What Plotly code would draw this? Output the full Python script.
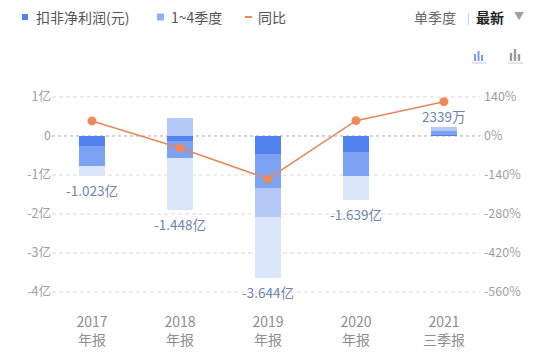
import plotly.graph_objects as go

categories = ["2017<br>年报", "2018<br>年报", "2019<br>年报", "2020<br>年报", "2021<br>三季报"]
q1 = [-0.26, -0.12, -0.47, -0.40, 0.02]
q2 = [-0.51, -0.45, -0.87, -0.62, 0.12]
q3 = [0.0, 0.46, -0.73, 0.0, 0.0939]
q4 = [-0.253, -1.338, -1.574, -0.619, 0.0]
value_labels = ["-1.023亿", "-1.448亿", "-3.644亿", "-1.639亿", "2339万"]
yoy = [54, -43, -154, 55, 123]

y_ticks = [1, 0, -1, -2, -3, -4]
y_ticktext = ["1亿", "0", "-1亿", "-2亿", "-3亿", "-4亿"]
y2_ticks = [140, 0, -140, -280, -420, -560]
y2_ticktext = ["140%", "0%", "-140%", "-280%", "-420%", "-560%"]

FONT = "Noto Sans CJK SC, Noto Sans, sans-serif"
colors = ["#5282ee", "#7ca2f4", "#b5c9f8", "#dce6fb"]

W, H = 550, 352
ML, MR, MT, MB = 52, 70, 95, 58
PW, PH = W - ML - MR, H - MT - MB


def px(x):
    return (x - ML) / PW


def py(y):
    return 1 - (y - MT) / PH


fig = go.Figure()
for i, q in enumerate([q1, q2, q3, q4]):
    fig.add_trace(go.Bar(x=categories, y=q, marker=dict(color=colors[i], line_width=0),
                         width=0.295, showlegend=False, hoverinfo="skip"))

fig.add_trace(go.Scatter(x=categories, y=yoy, yaxis="y2", mode="lines+markers",
                         line=dict(color="#e5895a", width=1.6),
                         marker=dict(color="#ee8a58", size=9),
                         showlegend=False))

# value labels
for i, c in enumerate(categories):
    vals = [q1[i], q2[i], q3[i], q4[i]]
    neg = sum(v for v in vals if v < 0)
    pos = sum(v for v in vals if v > 0)
    tot = sum(vals)
    if tot < 0:
        yv, ys = neg, -14
    else:
        yv, ys = pos, 11
    fig.add_annotation(x=c, y=yv, yshift=ys, text=value_labels[i], showarrow=False,
                       font=dict(size=13.5, color="#6f84b0", family=FONT))

# horizontal grid lines (dashed) and zero line (dotted)
for t in y_ticks:
    if t == 0:
        fig.add_shape(type="line", xref="paper", x0=0, x1=1, yref="y", y0=t, y1=t,
                      line=dict(color="#a8a8a8", width=1, dash="dot"), layer="below")
    else:
        fig.add_shape(type="line", xref="paper", x0=0, x1=1, yref="y", y0=t, y1=t,
                      line=dict(color="#dadada", width=1, dash="4px,3px"), layer="below")

# legend (top)
shapes = []
shapes.append(dict(type="rect", xref="paper", yref="paper", x0=px(22), x1=px(28), y0=py(20), y1=py(14),
                   fillcolor="#5282ee", line_width=0))
shapes.append(dict(type="rect", xref="paper", yref="paper", x0=px(157), x1=px(164), y0=py(20.5), y1=py(13.5),
                   fillcolor="#8fb0f2", line_width=0))
shapes.append(dict(type="line", xref="paper", yref="paper", x0=px(245), x1=px(252), y0=py(17), y1=py(17),
                   line=dict(color="#ee8a58", width=2)))
# icons top right
for (bx, top) in [(475, 54), (478.5, 51), (482, 55)]:
    shapes.append(dict(type="rect", xref="paper", yref="paper", x0=px(bx - 1), x1=px(bx + 1), y0=py(61), y1=py(top),
                       fillcolor="#7d9be0", line_width=0))
shapes.append(dict(type="line", xref="paper", yref="paper", x0=px(472), x1=px(486), y0=py(63), y1=py(63),
                   line=dict(color="#b7c8ee", width=1)))
for (bx, top) in [(511, 53), (515, 49), (519, 54)]:
    shapes.append(dict(type="rect", xref="paper", yref="paper", x0=px(bx - 1.2), x1=px(bx + 1.2), y0=py(61), y1=py(top),
                       fillcolor="#9a9a9a", line_width=0))
shapes.append(dict(type="line", xref="paper", yref="paper", x0=px(508), x1=px(523), y0=py(63), y1=py(63),
                   line=dict(color="#c8c8c8", width=1)))
for s in shapes:
    fig.add_shape(**s)

legend_texts = [
    (34, "扣非净利润(元)", "#555555"),
    (169, "1~4季度", "#555555"),
    (256, "同比", "#555555"),
]
for x, t, col in legend_texts:
    fig.add_annotation(xref="paper", yref="paper", x=px(x), y=py(17), text=t, showarrow=False,
                       xanchor="left", yanchor="middle", font=dict(size=14, color=col, family=FONT))
fig.add_annotation(xref="paper", yref="paper", x=px(458), y=py(17), text="单季度", showarrow=False,
                   xanchor="right", yanchor="middle", font=dict(size=14, color="#666666", family=FONT))
fig.add_annotation(xref="paper", yref="paper", x=px(468), y=py(17), text="|", showarrow=False,
                   xanchor="center", yanchor="middle", font=dict(size=10, color="#bbbbbb", family=FONT))
fig.add_annotation(xref="paper", yref="paper", x=px(474), y=py(17), text="<b>最新</b>", showarrow=False,
                   xanchor="left", yanchor="middle", font=dict(size=14, color="#222222", family=FONT))
fig.add_annotation(xref="paper", yref="paper", x=px(518.5), y=py(16), text="▼", showarrow=False,
                   xanchor="center", yanchor="middle", font=dict(size=10, color="#a0a0a0", family=FONT))

fig.update_layout(
    width=W, height=H,
    margin=dict(l=ML, r=MR, t=MT, b=MB),
    paper_bgcolor="white", plot_bgcolor="white",
    barmode="relative", bargap=0,
    font=dict(family=FONT),
    showlegend=False,
    xaxis=dict(type="category", range=[-0.455, 4.41], showgrid=False, zeroline=False, showline=False,
               ticks="", tickfont=dict(size=14, color="#8e8e8e"), ticklabelstandoff=18,
               automargin=False),
    yaxis=dict(range=[-4.05, 1.05], tickvals=y_ticks, ticktext=y_ticktext, showgrid=False,
               zeroline=False, showline=False, automargin=False,
               tickfont=dict(size=12.5, color="#a0a0a0"), ticks=""),
    yaxis2=dict(range=[-4.05 * 140, 1.05 * 140], tickvals=y2_ticks, ticktext=y2_ticktext, overlaying="y",
                side="right", showgrid=False, zeroline=False, showline=False, automargin=False,
                tickfont=dict(size=12.5, color="#a0a0a0"), ticks="", ticklabelstandoff=3),
)

fig.write_html("out.html")
